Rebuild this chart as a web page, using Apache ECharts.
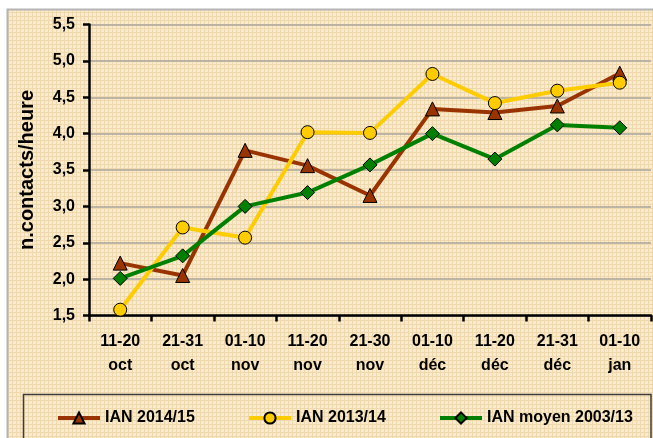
<!DOCTYPE html>
<html><head><meta charset="utf-8">
<script src="https://cdn.jsdelivr.net/npm/echarts@6/dist/echarts.min.js"></script>
<style>html,body{margin:0;padding:0;background:#fff}#c{width:653px;height:438px}</style>
</head><body><div id="c"></div>
<script>
var categories = ['11-20\noct','21-31\noct','01-10\nnov','11-20\nnov','21-30\nnov','01-10\ndéc','11-20\ndéc','21-31\ndéc','01-10\njan'];
var ian201415 = [2.22, 2.05, 3.77, 3.56, 3.15, 4.34, 4.29, 4.38, 4.83];
var ian201314 = [1.58, 2.71, 2.57, 4.02, 4.01, 4.82, 4.42, 4.59, 4.70];
var ianMoyen = [2.01, 2.32, 3.00, 3.19, 3.57, 4.00, 3.65, 4.12, 4.08];
var names = ['IAN 2014/15', 'IAN 2013/14', 'IAN moyen 2003/13'];

var tile = document.createElement('canvas');
tile.width = 4; tile.height = 4;
var tc = tile.getContext('2d');
tc.fillStyle = '#F8EBD0'; tc.fillRect(0,0,4,4);
tc.fillStyle = '#EED8AC'; tc.fillRect(0,0,4,1); tc.fillRect(0,0,1,4);

var chart = echarts.init(document.getElementById('c'), null, {renderer:'canvas'});
var font = 'Arial, "Liberation Sans", sans-serif';
var legendText = {fontFamily:font, fontWeight:'bold', fontSize:16, color:'#000'};
function mk(name, data, color, symbol, size) {
  return {
    name: name, type: 'line', data: data, symbol: symbol, symbolSize: size,
    lineStyle: {color: color, width: 4},
    itemStyle: {color: color, borderColor: '#000', borderWidth: 1},
    emphasis: {disabled: true}, animation: false, z: 5
  };
}
function lg(name, left) {
  return {data:[name], left: left, top: 405, itemWidth: 42, itemHeight: 14,
    lineStyle: {width: 4}, textStyle: legendText};
}
chart.setOption({
  animation: false,
  backgroundColor: '#fff',
  graphic: [
    {type:'rect', z:-10, shape:{x:7.5, y:9.5, width:660, height:440}, style:{fill:{image: tile, repeat:'repeat'}, stroke:'#B4B4B4', lineWidth:2}},
    {type:'rect', z:-9, shape:{x:23.5, y:394.5, width:627.5, height:60}, style:{fill:'transparent', stroke:'#3C3C3C', lineWidth:1.5}}
  ],
  grid: {left: 89, right: 2, top: 24.5, bottom: 122.5, containLabel: false},
  legend: [lg(names[0], 51), lg(names[1], 242), lg(names[2], 433)],
  xAxis: {
    type: 'category', data: categories, boundaryGap: true,
    axisLine: {lineStyle:{color:'#000', width:2.5}},
    axisTick: {show:true, length:6, lineStyle:{color:'#000', width:2.5}},
    axisLabel: {fontFamily:font, fontWeight:'bold', fontSize:16, color:'#000', lineHeight:24, margin:14, interval:0}
  },
  yAxis: {
    type: 'value', min: 1.5, max: 5.5, interval: 0.5,
    name: 'n.contacts/heure', nameLocation: 'middle', nameGap: 52, nameRotate: 90,
    nameTextStyle: {fontFamily:font, fontWeight:'bold', fontSize:20, color:'#000'},
    axisLine: {show:true, lineStyle:{color:'#000', width:2.5}},
    axisTick: {show:true, length:6, lineStyle:{color:'#000', width:2.5}},
    axisLabel: {fontFamily:font, fontWeight:'bold', fontSize:16, color:'#000', margin:14,
      formatter: function(v){ return v.toFixed(1).replace('.', ','); }},
    splitLine: {lineStyle:{color:'#A8A49C', width:1.5}}
  },
  series: [
    mk(names[0], ian201415, '#993300', 'triangle', 14),
    mk(names[1], ian201314, '#FFCC00', 'circle', 13),
    mk(names[2], ianMoyen, '#008000', 'diamond', 14)
  ]
});
</script></body></html>
